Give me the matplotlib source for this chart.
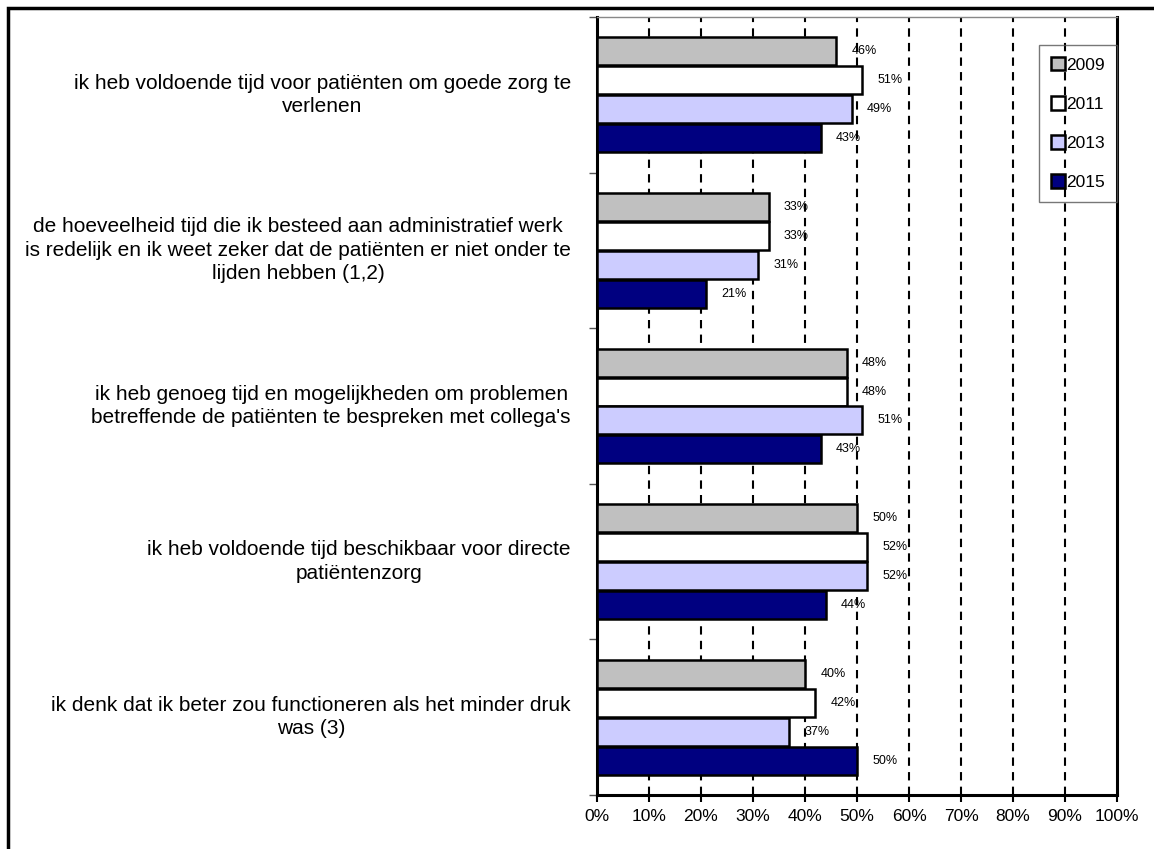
import numpy as np
import matplotlib.pyplot as plt
from matplotlib.patches import Rectangle

plt.rcParams['font.family'] = ['Liberation Sans', 'DejaVu Sans']

categories = [
    "ik heb voldoende tijd voor patiënten om goede zorg te\nverlenen",
    "de hoeveelheid tijd die ik besteed aan administratief werk\nis redelijk en ik weet zeker dat de patiënten er niet onder te\nlijden hebben (1,2)",
    "ik heb genoeg tijd en mogelijkheden om problemen\nbetreffende de patiënten te bespreken met collega's",
    "ik heb voldoende tijd beschikbaar voor directe\npatiëntenzorg",
    "ik denk dat ik beter zou functioneren als het minder druk\nwas (3)",
]
years = ["2009", "2011", "2013", "2015"]
v2009 = [46, 33, 48, 50, 40]
v2011 = [51, 33, 48, 52, 42]
v2013 = [49, 31, 51, 52, 37]
v2015 = [43, 21, 43, 44, 50]
series = [v2009, v2011, v2013, v2015]
colors = ['#C0C0C0', '#FFFFFF', '#CCCCFF', '#000080']

fig = plt.figure(figsize=(11.54, 8.49), dpi=100)
ax = fig.add_axes([0.5173, 0.0636, 0.4507, 0.9164])

# outer frame of the original sheet (cut off on right and bottom)
fig.patches.append(Rectangle((0.007, -0.1), 1.2, 0.1 + 0.9905, transform=fig.transFigure,
                             fill=False, edgecolor='black', linewidth=2.5, zorder=0))

centers = np.arange(len(categories)) + 0.5
h = 0.18
step = 0.186
for i, (vals, col, yr) in enumerate(zip(series, colors, years)):
    ypos = centers + (i - 1.5) * step
    ax.barh(ypos, vals, height=h, color=col, edgecolor='black', linewidth=1.8,
            label=yr, zorder=3)
    for y, v in zip(ypos, vals):
        ax.annotate(f"{v}%", (v, y), xytext=(11, 0), textcoords='offset points',
                    va='center', ha='left', fontsize=9, zorder=4)

ax.set_xlim(0, 100)
ax.set_ylim(len(categories), 0)
ax.set_xticks(np.arange(0, 101, 10))
ax.set_xticklabels([f"{t}%" for t in range(0, 101, 10)], fontsize=12.5)
ax.tick_params(axis='x', length=5, width=1.5, pad=5)

ax.set_yticks(np.arange(0, len(categories) + 1))
ax.set_yticklabels([])
ax.tick_params(axis='y', length=6, width=1, color='#555555')

for c, lab in zip(centers, categories):
    ax.text(-0.05, c, lab, transform=ax.get_yaxis_transform(), ha='right', va='center',
            multialignment='center', fontsize=15, linespacing=1.3)

for x in range(10, 100, 10):
    ax.axvline(x, color='black', linestyle=(0, (4, 3)), linewidth=1.5, zorder=1)

ax.spines['top'].set_color('#888888')
ax.spines['top'].set_linewidth(1)
for s in ['left', 'right', 'bottom']:
    ax.spines[s].set_linewidth(2.2)

leg = ax.legend(loc='upper right', bbox_to_anchor=(1.0, 0.964), borderaxespad=0,
                fontsize=12.5, handlelength=0.8, handleheight=0.8, handletextpad=0.05,
                labelspacing=1.35, borderpad=0.7, fancybox=False,
                edgecolor='#555555', facecolor='none', framealpha=None)
leg.get_frame().set_linewidth(1)

fig.savefig("out.png", dpi=100)
